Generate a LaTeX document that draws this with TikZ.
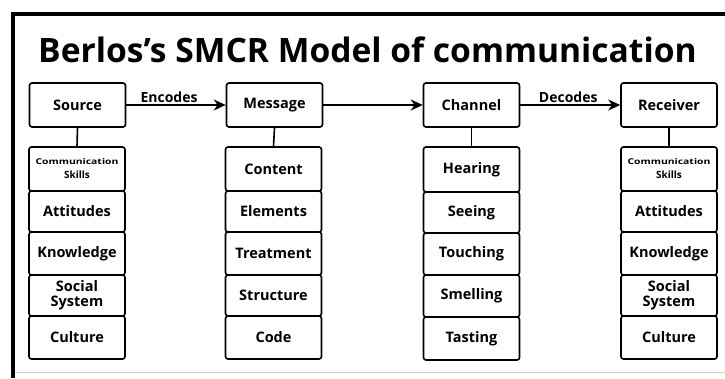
\documentclass[tikz,border=0pt]{standalone}
\usepackage{fontspec}
\setmainfont{Open Sans}
\usetikzlibrary{arrows.meta}
\begin{document}
\begin{tikzpicture}[x=1pt,y=-1pt,
  mainbox/.style={draw, line width=1.6pt, rounded corners=2.5pt, minimum width=96pt, minimum height=44pt, inner sep=0pt, align=center, font=\fontsize{14.5}{15}\selectfont\bfseries},
  cell/.style={draw, line width=1.6pt, rounded corners=2.5pt, minimum width=96pt, inner sep=0pt, align=center, font=\fontsize{14.5}{15}\selectfont\bfseries},
  link/.style={line width=1.6pt},
  flow/.style={line width=1.8pt, -{Stealth[length=12pt,width=11pt]}},
  flowlabel/.style={font=\fontsize{14}{15}\selectfont\bfseries, inner sep=1pt}
]
\useasboundingbox (0,0) rectangle (725,378);
\fill[white] (0,0) rectangle (725,378);
% frame
\draw[line width=4pt] (12.5,378) -- (12.5,14) -- (725,14);
\draw[black!20, line width=1pt] (15,372) -- (725,372);
% title
\node[anchor=base west, inner sep=0pt, font=\fontsize{33.6}{36}\selectfont\bfseries] (title) at (38,62) {Berlos’s SMCR Model of communication};
% main boxes
\node[mainbox] (src) at (77.5,105) {Source};
\node[mainbox] (msg) at (274.5,105) {Message};
\node[mainbox] (chn) at (471.5,105) {Channel};
\node[mainbox] (rcv) at (669,105) {Receiver};
\draw[flow] (src) -- node[flowlabel, above, pos=0.43] (enc) {Encodes} (msg);
\draw[flow] (msg) -- (chn);
\draw[flow] (chn) -- node[flowlabel, above, pos=0.48] (dec) {Decodes} (rcv);
% source column
\node[cell, minimum height=44pt] (s1) at (77,169) {\fontsize{8}{9}\selectfont\scalebox{1.3}[1]{Communication}\\[-1pt]\fontsize{10}{11}\selectfont Skills};
\node[cell, minimum height=41pt] (s2) at (77,211.5) {Attitudes};
\node[cell, minimum height=43pt] (s3) at (77,253.5) {Knowledge};
\node[cell, minimum height=41pt] (s4) at (77,295.5) {Social\\System};
\node[cell, minimum height=43pt] (s5) at (77,337.5) {Culture};
% message column
\node[cell, minimum height=44pt] (m1) at (273.5,169) {Content};
\node[cell, minimum height=41pt] (m2) at (273.5,211.5) {Elements};
\node[cell, minimum height=43pt] (m3) at (273.5,253.5) {Treatment};
\node[cell, minimum height=41pt] (m4) at (273.5,295.5) {Structure};
\node[cell, minimum height=43pt] (m5) at (273.5,337.5) {Code};
% channel column
\node[cell, minimum height=45pt] (c1) at (471.5,169.5) {Hearing};
\node[cell, minimum height=41pt] (c2) at (471.5,212.5) {Seeing};
\node[cell, minimum height=42pt] (c3) at (471.5,254) {Touching};
\node[cell, minimum height=42pt] (c4) at (471.5,296) {Smelling};
\node[cell, minimum height=43pt] (c5) at (471.5,338.5) {Tasting};
% receiver column
\node[cell, minimum height=44pt] (r1) at (669,169) {\fontsize{8}{9}\selectfont\scalebox{1.3}[1]{Communication}\\[-1pt]\fontsize{10}{11}\selectfont Skills};
\node[cell, minimum height=41pt] (r2) at (669,211.5) {Attitudes};
\node[cell, minimum height=43pt] (r3) at (669,253.5) {Knowledge};
\node[cell, minimum height=41pt] (r4) at (669,295.5) {Social\\System};
\node[cell, minimum height=43pt] (r5) at (669,337.5) {Culture};
% links
\draw[link] (src.south) -- (s1.north);
\draw[link] (msg.south) -- (m1.north);
\draw[link] (chn.south) -- (c1.north);
\draw[link] (rcv.south) -- (r1.north);
\end{tikzpicture}
\end{document}
